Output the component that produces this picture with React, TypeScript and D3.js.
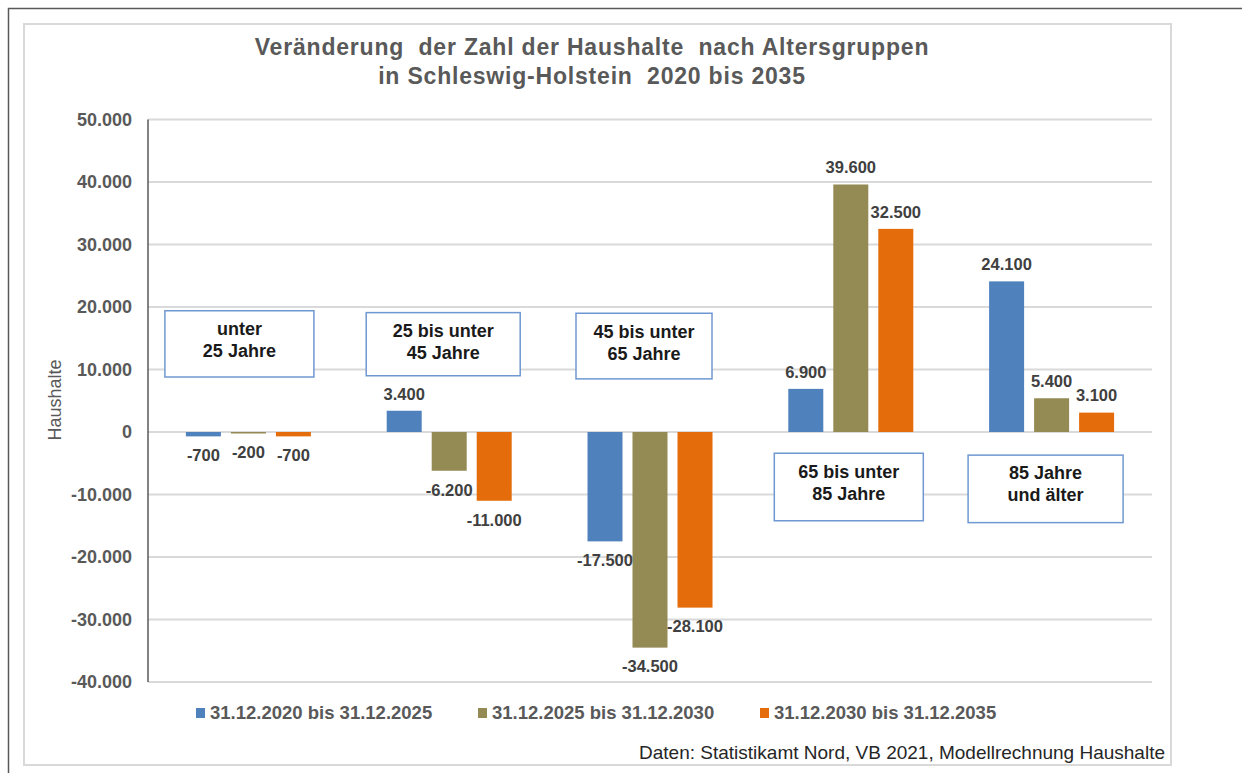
import React from "react";
import * as d3 from "d3";

const categories = ["unter 25", "25-45", "45-65", "65-85", "85+"];
const categoryLabels = [
  ["unter", "25 Jahre"],
  ["25 bis unter", "45 Jahre"],
  ["45 bis unter", "65 Jahre"],
  ["65 bis unter", "85 Jahre"],
  ["85 Jahre", "und älter"],
];
const seriesNames = [
  "31.12.2020 bis 31.12.2025",
  "31.12.2025 bis 31.12.2030",
  "31.12.2030 bis 31.12.2035",
];
const values2020_2025 = [-700, 3400, -17500, 6900, 24100];
const values2025_2030 = [-200, -6200, -34500, 39600, 5400];
const values2030_2035 = [-700, -11000, -28100, 32500, 3100];
const yTicks = [50000, 40000, 30000, 20000, 10000, 0, -10000, -20000, -30000, -40000];

const titleLines = [
  "Veränderung  der Zahl der Haushalte  nach Altersgruppen",
  "in Schleswig-Holstein  2020 bis 2035",
];
const yTitle = "Haushalte";
const source = "Daten: Statistikamt Nord, VB 2021, Modellrechnung Haushalte";

const colors = ["#4F81BD", "#948A54", "#E46C0A"];

// annotation box layout (center offset from group center, vertical extent in data units, width)
const boxLayout = [
  { dx: -9, top: 19400, bottom: 8800, w: 149 },
  { dx: -6, top: 19100, bottom: 9000, w: 154 },
  { dx: -6, top: 19000, bottom: 8500, w: 136 },
  { dx: -2, top: -3400, bottom: -14200, w: 149 },
  { dx: -6, top: -3700, bottom: -14500, w: 155 },
];

const W = 1242;
const H = 773;
const FONT = "'Liberation Sans', Arial, sans-serif";

const locale = d3.formatLocale({
  decimal: ",",
  thousands: ".",
  grouping: [3],
  currency: ["", " €"],
  minus: "-",
});
const fmt = locale.format(",d");

export default function App() {
  const series = [values2020_2025, values2025_2030, values2030_2035];
  const x0 = d3.scaleBand<string>().domain(categories).range([148, 1152]).paddingInner(0).paddingOuter(0);
  const x1 = d3.scaleBand<number>().domain([0, 1, 2]).range([0, 125]).paddingInner(10 / 45).paddingOuter(0);
  const y = d3.scaleLinear().domain([-40000, 50000]).range([682, 119.5]);
  const gc = (c: string) => (x0(c) as number) + x0.bandwidth() / 2;

  const legendX = [196, 478, 760];

  return (
    <svg
      width={W}
      height={H}
      style={{ position: "absolute", left: 0, top: 0, background: "#fff" }}
      fontFamily={FONT}
    >
      <rect x={0} y={0} width={W} height={H} fill="#fff" />
      {/* outer frame */}
      <path d={`M8.5,${H} V8.5 H${W}`} fill="none" stroke="#595959" strokeWidth={1.5} />
      {/* chart area border */}
      <rect x={24} y={24} width={1147} height={741} fill="#fff" stroke="#d9d9d9" strokeWidth={2} />

      {/* title */}
      {titleLines.map((t, i) => (
        <text
          key={i}
          x={592}
          y={55 + i * 29}
          textAnchor="middle"
          fontSize={23}
          fontWeight="bold"
          fill="#595959"
          letterSpacing={0.8}
          style={{ whiteSpace: "pre" }}
        >
          {t}
        </text>
      ))}

      {/* gridlines */}
      {yTicks.map((t) => (
        <line key={t} x1={148} x2={1152} y1={y(t)} y2={y(t)} stroke="#d9d9d9" strokeWidth={2} />
      ))}
      {/* y tick labels */}
      {yTicks.map((t) => (
        <text
          key={"l" + t}
          x={132}
          y={y(t)}
          dy="0.35em"
          textAnchor="end"
          fontSize={18}
          fontWeight="bold"
          fill="#595959"
        >
          {fmt(t)}
        </text>
      ))}
      {/* y axis line */}
      <line x1={148} x2={148} y1={y(50000)} y2={y(-40000)} stroke="#595959" strokeWidth={1.5} />
      {/* y title */}
      <text
        transform={`translate(61,400) rotate(-90)`}
        textAnchor="middle"
        fontSize={18}
        fill="#595959"
      >
        {yTitle}
      </text>

      {/* bars */}
      {categories.map((c, ci) => {
        const left = gc(c) - 62.5;
        return series.map((s, si) => {
          const v = s[ci];
          const bx = left + (x1(si) as number);
          const y0 = y(0);
          const yv = y(v);
          return (
            <rect
              key={c + si}
              x={bx}
              y={Math.min(y0, yv)}
              width={x1.bandwidth()}
              height={Math.max(Math.abs(yv - y0), 1.5)}
              fill={colors[si]}
            />
          );
        });
      })}

      {/* data labels */}
      {categories.map((c, ci) => {
        const left = gc(c) - 62.5;
        return series.map((s, si) => {
          const v = s[ci];
          const cx = left + (x1(si) as number) + x1.bandwidth() / 2;
          const ly = v >= 0 ? y(v) - 17 : y(v) + 19;
          return (
            <text
              key={"d" + c + si}
              x={cx}
              y={ly}
              dy="0.35em"
              textAnchor="middle"
              fontSize={16.5}
              fontWeight="bold"
              fill="#404040"
            >
              {fmt(v)}
            </text>
          );
        });
      })}

      {/* category annotation boxes */}
      {categories.map((c, ci) => {
        const b = boxLayout[ci];
        const cx = gc(c) + b.dx;
        const top = y(b.top);
        const bot = y(b.bottom);
        return (
          <g key={"b" + c}>
            <rect
              x={cx - b.w / 2}
              y={top}
              width={b.w}
              height={bot - top}
              fill="#fff"
              stroke="#6f98d0"
              strokeWidth={1.5}
            />
            {categoryLabels[ci].map((t, li) => (
              <text
                key={li}
                x={cx}
                y={top + 18 + li * 22}
                dy="0.35em"
                textAnchor="middle"
                fontSize={18}
                fontWeight="bold"
                fill="#1a1a1a"
              >
                {t}
              </text>
            ))}
          </g>
        );
      })}

      {/* legend */}
      {seriesNames.map((n, i) => (
        <g key={"lg" + i}>
          <rect x={legendX[i]} y={708} width={9} height={10} fill={colors[i]} />
          <text x={legendX[i] + 14} y={713} dy="0.35em" fontSize={18.5} fontWeight="bold" fill="#595959">
            {n}
          </text>
        </g>
      ))}

      {/* source */}
      <text x={1165} y={759} textAnchor="end" fontSize={19} fill="#262626">
        {source}
      </text>
    </svg>
  );
}
